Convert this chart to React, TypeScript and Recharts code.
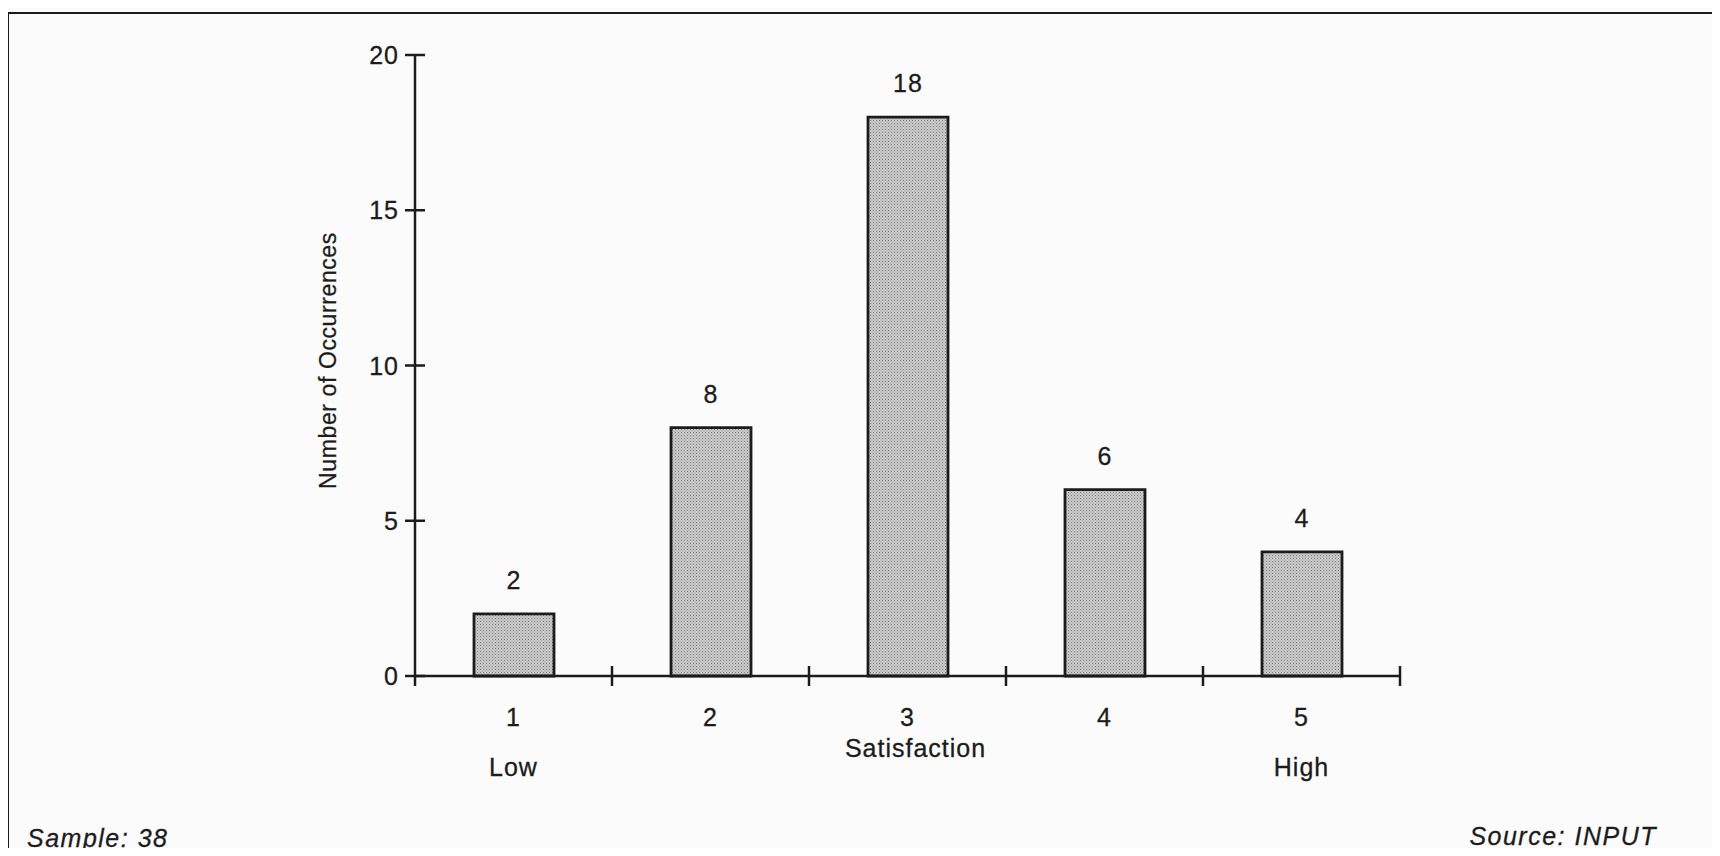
import { Bar, BarChart, Label, LabelList, XAxis, YAxis } from 'recharts'

const categories = ['1', '2', '3', '4', '5']
const occurrences = [2, 8, 18, 6, 4]
const scaleNotes = ['Low', '', '', '', 'High']
const yTicks = [0, 5, 10, 15, 20]

const data = categories.map((c, i) => ({ rating: c, count: occurrences[i] }))

const W = 1720
const H = 856
const PLOT_LEFT = 415
const PLOT_RIGHT = 1400
const PLOT_TOP = 55
const PLOT_BOTTOM = 676
const BAND = (PLOT_RIGHT - PLOT_LEFT) / categories.length
const INK = '#1c1c1c'
const FONT = '"Liberation Sans", Arial, Helvetica, sans-serif'
const textStyle = { fontFamily: FONT, fontSize: 25, letterSpacing: 1, fill: INK, stroke: INK, strokeWidth: 0.3 }
const footStyle = { ...textStyle, fontStyle: 'italic', letterSpacing: 1.5 }

function XTick(props: any) {
  const { x, y, payload } = props
  const i = categories.indexOf(String(payload.value))
  const note = scaleNotes[i]
  return (
    <g>
      {i === 0 && <line x1={x - BAND / 2} x2={x - BAND / 2} y1={y} y2={y + 10} stroke={INK} strokeWidth={2.5} />}
      <line x1={x + BAND / 2} x2={x + BAND / 2} y1={y - 10} y2={y + 10} stroke={INK} strokeWidth={2.5} />
      <text x={x} y={y + 50} textAnchor="middle" style={textStyle}>{payload.value}</text>
      {note && <text x={x} y={y + 100} textAnchor="middle" style={textStyle}>{note}</text>}
    </g>
  )
}

function YTick(props: any) {
  const { x, y, payload } = props
  return (
    <g>
      <line x1={x - 10} x2={x + 10} y1={y} y2={y} stroke={INK} strokeWidth={2.5} />
      <text x={x - 16} y={y + 9} textAnchor="end" style={textStyle}>{payload.value}</text>
    </g>
  )
}

function YTitle(props: any) {
  const { viewBox } = props
  const cx = viewBox.x + viewBox.width - 79
  const cy = viewBox.y + viewBox.height / 2 - 5
  return (
    <text x={cx} y={cy} textAnchor="middle" transform={`rotate(-90 ${cx} ${cy})`}
      style={{ ...textStyle, fontSize: 23, letterSpacing: 0.6 }}>
      Number of Occurrences
    </text>
  )
}

function XTitle(props: any) {
  const { viewBox } = props
  const cx = viewBox.x + viewBox.width / 2 + 8
  return (
    <text x={cx} y={viewBox.y + 81} textAnchor="middle" style={textStyle}>Satisfaction</text>
  )
}

export default function App() {
  return (
    <div style={{ position: 'relative', width: W, height: H, margin: -8, background: '#fbfbfb', overflow: 'hidden' }}>
      <svg width={W} height={H} style={{ position: 'absolute', left: 0, top: 0 }}>
        <defs>
          <pattern id="halftone" width={3} height={3} patternUnits="userSpaceOnUse">
            <rect width={3} height={3} fill="#cacaca" />
            <rect width={1} height={1} fill="#7e7e7e" />
            <rect x={1.5} y={1.5} width={1} height={1} fill="#9c9c9c" />
          </pattern>
        </defs>
        <line x1={8} x2={8} y1={12} y2={H} stroke={INK} strokeWidth={2} />
        <line x1={7} x2={W} y1={13} y2={13} stroke={INK} strokeWidth={2} />
        <text x={27} y={847} style={footStyle}>Sample: 38</text>
        <text x={1657} y={845} textAnchor="end" style={footStyle}>Source: INPUT</text>
      </svg>
      <BarChart
        width={W}
        height={H}
        data={data}
        margin={{ top: PLOT_TOP, right: W - PLOT_RIGHT, left: PLOT_LEFT - 120, bottom: H - PLOT_BOTTOM - 120 }}
        style={{ position: 'absolute', left: 0, top: 0 }}
      >
        <XAxis
          dataKey="rating"
          height={120}
          interval={0}
          tickSize={0}
          tickMargin={0}
          tickLine={false}
          stroke={INK}
          strokeWidth={2.5}
          tick={<XTick />}
        >
          <Label content={<XTitle />} />
        </XAxis>
        <YAxis
          width={120}
          domain={[0, 20]}
          ticks={yTicks}
          interval={0}
          tickSize={0}
          tickMargin={0}
          tickLine={false}
          stroke={INK}
          strokeWidth={2.5}
          tick={<YTick />}
        >
          <Label content={<YTitle />} />
        </YAxis>
        <Bar dataKey="count" fill="url(#halftone)" stroke={INK} strokeWidth={2.8} barSize={80} isAnimationActive={false}>
          <LabelList dataKey="count" position="top" offset={25} fill={INK} style={textStyle} />
        </Bar>
      </BarChart>
    </div>
  )
}
